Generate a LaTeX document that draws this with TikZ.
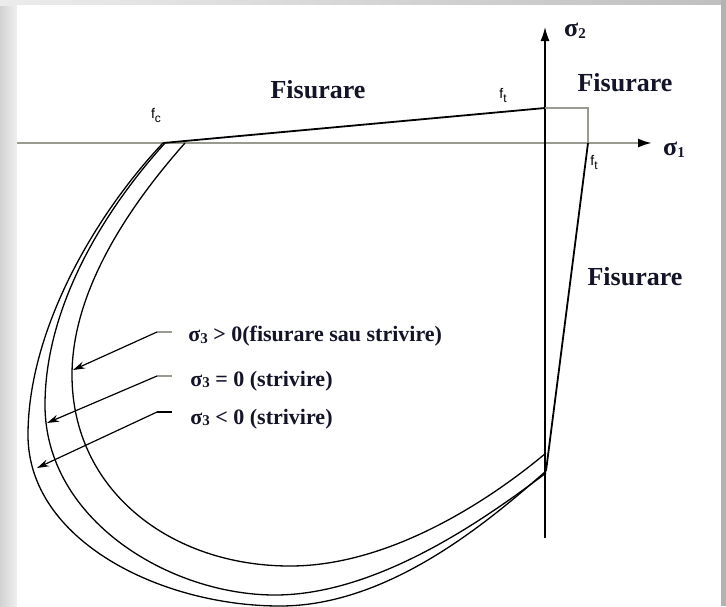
\documentclass[tikz,border=0pt]{standalone}
\usepackage{fontspec}
\setmainfont{Liberation Serif}
\newfontfamily\lsans{Liberation Sans}
\usetikzlibrary{arrows.meta}
\definecolor{axgray}{HTML}{9A9A90}
\definecolor{txt}{HTML}{141428}
\newcommand\mysub[1]{{\fontsize{7.5}{8}\selectfont\raisebox{-0.8pt}{#1}}}
\newcommand\fsub[1]{{\fontsize{6}{7}\selectfont\raisebox{-2pt}{#1}}}
\begin{document}
\begin{tikzpicture}[x=0.5pt,y=-0.5pt,
  curve/.style={line width=0.65pt, black},
  bold line/.style={line width=0.9pt, black},
  axisg/.style={line width=1.1pt, color=axgray},
  lbl/.style={font=\bfseries\fontsize{13}{15}\selectfont, text=txt, inner sep=0pt},
  sig/.style={font=\bfseries\fontsize{11}{13}\selectfont, text=txt, anchor=west, inner sep=0pt},
  fl/.style={font=\lsans\fontsize{7}{8}\selectfont, inner sep=0pt},
  ann/.style={line width=0.6pt, black, -{Stealth[length=6pt,width=3.6pt]}},
  tailg/.style={line width=1pt, color=axgray}
]
% frame / background
\useasboundingbox (0,0) rectangle (726,606);
\shade[left color=gray!35, right color=gray!12] (0,0) rectangle (17,606);
\shade[left color=gray!15, right color=gray!50] (0,0) rectangle (726,5);
\fill[gray!60] (721,0) rectangle (726,606);
\fill[white] (17,5) rectangle (721,606);

% key points
\coordinate (xs) at (17,143);
\coordinate (xe) at (652,143);
\coordinate (ys) at (545,538);
\coordinate (ye) at (545,27);
\coordinate (fc) at (163,143);
\coordinate (fc2) at (185,143);
\coordinate (ft) at (545,108);
\coordinate (cr) at (588,108);
\coordinate (ft2) at (588,143);
\coordinate (bt) at (546,471);
\coordinate (bt2) at (546,473);
\coordinate (bt3) at (546,453);

% axes
\draw[axisg, -{Latex[length=7pt,width=4.5pt,color=black]}] (xs) -- (xe);
\draw[line width=0.7pt, -{Latex[length=7pt,width=4.5pt]}] (ys) -- (ye);

% tension cut-off rectangle
\draw[axisg] (ft) -- (cr) -- (ft2);
% straight branches
\draw[bold line] (fc) -- (ft);
\draw[bold line] (ft2) -- (bt);

% outer curve (sigma3 < 0)
\draw[curve] (fc) .. controls (95,215) and (28,330) .. (28,435)
  .. controls (28,540) and (160,606) .. (280,606)
  .. controls (390,606) and (490,520) .. (bt);
% middle curve (sigma3 = 0)
\draw[curve] (165,143) .. controls (100,215) and (45,310) .. (45,405)
  .. controls (45,520) and (170,595) .. (275,595)
  .. controls (380,595) and (490,515) .. (bt2);
% inner curve (sigma3 > 0)
\draw[curve] (fc2) .. controls (130,205) and (72,290) .. (72,375)
  .. controls (72,490) and (170,566) .. (290,566)
  .. controls (390,566) and (490,500) .. (bt3);

% labels
\node[lbl] (fis1) at (318,90) {Fisurare};
\node[lbl] (fis2) at (625,83) {Fisurare};
\node[lbl] (fis3) at (635,277) {Fisurare};
\node[lbl] (s2) at (575,31) {σ\mysub{2}};
\node[lbl] (s1) at (674,150) {σ\mysub{1}};
\node[fl] (lfc) at (156,115) {f\fsub{c}};
\node[fl] (lft) at (503,95) {f\fsub{t}};
\node[fl] (lft2) at (594,162) {f\fsub{t}};

% annotations
\node[sig] (a1) at (188,336) {σ\mysub{3} > 0(fisurare sau strivire)};
\node[sig] (a2) at (190,381) {σ\mysub{3} = 0 (strivire)};
\node[sig] (a3) at (190,419) {σ\mysub{3} < 0 (strivire)};

\coordinate (h1) at (172,332); \coordinate (k1) at (157,332); \coordinate (t1) at (73,370);
\coordinate (h2) at (172,376); \coordinate (k2) at (157,376); \coordinate (t2) at (47,423);
\coordinate (h3) at (172,412); \coordinate (k3) at (157,412); \coordinate (t3) at (37,468);
\draw[tailg] (h1) -- (k1);
\draw[tailg] (h2) -- (k2);
\draw[line width=0.6pt] (h3) -- (k3);
\draw[ann] (k1) -- (t1);
\draw[ann] (k2) -- (t2);
\draw[ann] (k3) -- (t3);
\end{tikzpicture}
\end{document}
